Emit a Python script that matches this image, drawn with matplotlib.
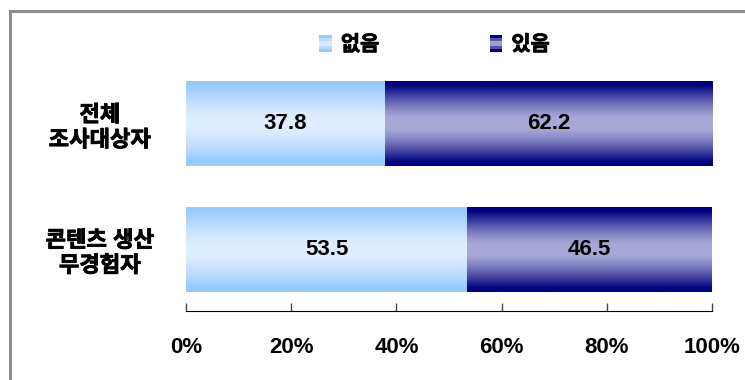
import numpy as np
import matplotlib.pyplot as plt
import matplotlib.patheffects as pe
from matplotlib.patches import Rectangle
from matplotlib.lines import Line2D
from matplotlib.legend_handler import HandlerBase

plt.rcParams['font.family'] = ['Liberation Sans', 'Noto Sans CJK KR', 'DejaVu Sans']

# data
groups = ['전체\n조사대상자', '콘텐츠 생산\n무경험자']
none_vals = [37.8, 53.5]     # 없음
some_vals = [62.2, 46.5]     # 있음
series_names = ['없음', '있음']
xticks = [0, 20, 40, 60, 80, 100]

# gradient colours (edge, centre)
light_edge, light_mid = np.array([150, 202, 255]) / 255, np.array([222, 237, 255]) / 255
dark_edge, dark_mid = np.array([0, 0, 128]) / 255, np.array([168, 168, 214]) / 255

# fake bold for hangul
bold_fx = [pe.withStroke(linewidth=0.6, foreground='black')]


def grad_image(edge, mid, n=64):
    t = np.abs(np.linspace(-1, 1, n))
    w = np.clip(t * 1.25 - 0.15, 0, 1) ** 1.3
    cols = mid[None, :] * (1 - w[:, None]) + edge[None, :] * w[:, None]
    return cols[:, None, :]


class GradHandler(HandlerBase):
    def __init__(self, edge, mid):
        super().__init__()
        self.edge, self.mid = edge, mid

    def create_artists(self, legend, orig_handle, xdescent, ydescent,
                       width, height, fontsize, trans):
        n = 6
        img = grad_image(self.edge, self.mid, n)[:, 0, :]
        arts = []
        for i in range(n):
            r = Rectangle((-xdescent, -ydescent + height * i / n), width, height / n,
                          facecolor=img[i], edgecolor='none', transform=trans)
            arts.append(r)
        return arts


fig = plt.figure(figsize=(7.45, 3.8), dpi=100)
ax = fig.add_axes([0.2497, 0.1816, 0.706, 0.654])

y = np.arange(len(groups))
h = 0.677
b1 = ax.barh(y, none_vals, height=h, color='none', edgecolor='none')
b2 = ax.barh(y, some_vals, left=none_vals, height=h, color='none', edgecolor='none')

for bars, (edge, mid) in [(b1, (light_edge, light_mid)), (b2, (dark_edge, dark_mid))]:
    for p in bars:
        x0, yy0 = p.get_x(), p.get_y()
        im = ax.imshow(grad_image(edge, mid), extent=[x0, x0 + p.get_width(), yy0 + p.get_height(), yy0],
                       aspect='auto', interpolation='bilinear', zorder=2)
        im.set_clip_path(p)

for bars in (b1, b2):
    for p in bars:
        ax.text(p.get_x() + p.get_width() / 2, p.get_y() + p.get_height() / 2,
                f'{p.get_width():.1f}', ha='center', va='center',
                fontsize=16, fontweight='bold', color='black', zorder=3)

ax.set_xlim(0, 100)
ax.set_ylim(1.49, -0.49)
ax.set_xticks(xticks)
ax.set_xticklabels([f'{v}%' for v in xticks], fontsize=16, fontweight='bold')
ax.tick_params(axis='x', direction='in', length=6, width=1, color='#444444', pad=19)
ax.set_yticks(y)
ax.set_yticklabels(groups, fontsize=16, fontweight='bold', linespacing=1.25)
ax.tick_params(axis='y', length=0, pad=62)
for lab in ax.get_yticklabels():
    lab.set_horizontalalignment('center')
    lab.set_multialignment('center')
    lab.set_path_effects(bold_fx)

for s in ['left', 'top', 'right']:
    ax.spines[s].set_visible(False)
ax.spines['bottom'].set_color('black')

handles = [Rectangle((0, 0), 1, 1), Rectangle((0, 0), 1, 1)]
leg = fig.legend(handles, series_names, ncol=2, loc='center', bbox_to_anchor=(0.583, 0.882),
                 frameon=False, handlelength=0.6, handleheight=0.85, handletextpad=0.45,
                 columnspacing=5.3, prop={'size': 15, 'weight': 'bold'},
                 handler_map={handles[0]: GradHandler(light_edge, light_mid),
                              handles[1]: GradHandler(dark_edge, dark_mid)})
for t in leg.get_texts():
    t.set_path_effects(bold_fx)

# outer frame (top and left only visible)
fig.add_artist(Line2D([9.5 / 745, 1], [1 - 10.5 / 380] * 2, color='#8c8c8c', lw=2.2))
fig.add_artist(Line2D([9.5 / 745] * 2, [0, 1 - 10.5 / 380], color='#8c8c8c', lw=2.2))

fig.savefig('out.png', dpi=100)
